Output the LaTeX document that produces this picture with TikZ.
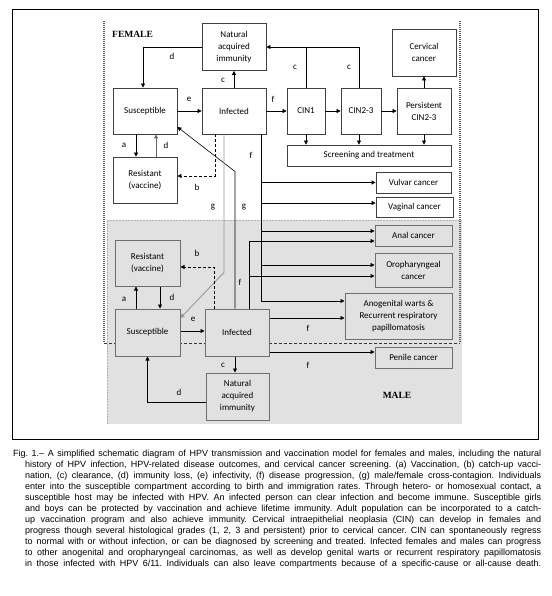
\documentclass[tikz,border=0pt]{standalone}
\usepackage{fontspec}
\setmainfont{Carlito}
\newfontfamily\capfont{Liberation Sans}
\newfontfamily\lblfont{Liberation Serif}
\usetikzlibrary{arrows.meta,calc}
\definecolor{regiongray}{HTML}{E1E1E1}
\definecolor{fbord}{HTML}{404040}
\definecolor{mbord}{HTML}{6E6E6E}
\frenchspacing
\tikzset{
  fbox/.style={draw=fbord, line width=0.8pt, fill=white, inner sep=1pt, align=center,
    font=\fontsize{9}{12}\selectfont},
  mbox/.style={draw=mbord, line width=1pt, fill=regiongray, inner sep=1pt, align=center,
    font=\fontsize{9}{12}\selectfont},
  arr/.style={line width=0.7pt, -{Triangle[length=4pt,width=4pt]}},
  conn/.style={line width=0.7pt},
  dasharr/.style={arr, dash pattern=on 3pt off 2pt},
  lbl/.style={font=\fontsize{9}{10}\selectfont, inner sep=0pt},
  sexlbl/.style={font=\lblfont\bfseries\fontsize{9.5}{10}\selectfont, inner sep=0pt},
}
\begin{document}
\begin{tikzpicture}[x=1pt,y=-1pt]
\useasboundingbox (0,0) rectangle (551,596);
% outer frame
\draw[line width=0.9pt] (12,9) rectangle (538,439);
% male region
\fill[regiongray] (107,220) rectangle (462,424);
\draw[gray!60, line width=0.8pt, dash pattern=on 2pt off 1pt] (107,424) -- (107,220) -- (462,220);
% female region
\draw[gray!70!black, line width=1.3pt, dash pattern=on 1pt off 1pt] (104,21) -- (104,343);
\draw[gray!70!black, line width=1.3pt, dash pattern=on 1pt off 1pt] (460,21) -- (460,343);
\draw[black!80, line width=0.8pt, dash pattern=on 3pt off 2pt] (104,343) -- (460,343);
\node[sexlbl, anchor=west] (femlbl) at (112,34) {FEMALE};
\node[sexlbl] (malelbl) at (397,395) {MALE};

% female nodes
\node[fbox, minimum width=64pt, minimum height=47pt] (fNat) at (234,47) {Natural\\acquired\\immunity};
\node[fbox, minimum width=64pt, minimum height=46pt] (fSus) at (145,111) {Susceptible};
\node[fbox, minimum width=64pt, minimum height=46pt] (fInf) at (234,111) {Infected};
\node[fbox, minimum width=38pt, minimum height=46pt] (cin1) at (306,111) {CIN1};
\node[fbox, minimum width=40pt, minimum height=46pt] (cin23) at (361,111) {CIN2-3};
\node[fbox, minimum width=54pt, minimum height=46pt] (pers) at (424,111) {Persistent\\CIN2-3};
\node[fbox, minimum width=64pt, minimum height=47pt] (cerv) at (424,52.5) {Cervical\\cancer};
\node[fbox, minimum width=164pt, minimum height=21pt] (screen) at (369,155.5) {Screening and treatment};
\node[fbox, minimum width=64pt, minimum height=46pt] (fRes) at (145,180) {Resistant\\(vaccine)};
\node[fbox, minimum width=75pt, minimum height=21pt] (vulv) at (413.5,182.5) {Vulvar cancer};
\node[fbox, minimum width=77pt, minimum height=20pt] (vag) at (414.5,207) {Vaginal cancer};

% male nodes
\node[mbox, minimum width=77pt, minimum height=21pt] (anal) at (413.5,235.5) {Anal cancer};
\node[mbox, minimum width=77pt, minimum height=34pt] (oro) at (413.5,270) {Oropharyngeal\\cancer};
\node[mbox, minimum width=107pt, minimum height=46pt] (warts) at (398.5,316) {Anogenital warts \&\\Recurrent respiratory\\papillomatosis};
\node[mbox, minimum width=77pt, minimum height=21pt] (penile) at (413.5,357.5) {Penile cancer};
\node[mbox, minimum width=65pt, minimum height=46pt] (mRes) at (147.5,263) {Resistant\\(vaccine)};
\node[mbox, minimum width=65pt, minimum height=47pt] (mSus) at (147.5,332.5) {Susceptible};
\node[mbox, minimum width=64pt, minimum height=47pt] (mInf) at (237,332.5) {Infected};
\node[mbox, minimum width=63pt, minimum height=47pt] (mNat) at (237.5,396.5) {Natural\\acquired\\immunity};

% ---------- female connectors
\draw[arr] (fNat.west) -| ([xshift=-2pt]fSus.north);
\node[lbl] (ld1) at (172,56) {d};
\draw[arr] (fInf.north) -- (fNat.south);
\node[lbl] (lc1) at (223,80) {c};
\coordinate (cj) at (cin1.north |- fNat.east);
\draw[conn] ([xshift=-2pt]cin23.north) |- (cj);
\draw[arr] (cin1.north) |- (fNat.east);
\node[lbl] (lc2) at (295,67) {c};
\node[lbl] (lc3) at (349,67) {c};
\draw[arr] (fSus.east) -- (fInf.west);
\node[lbl] (le1) at (189,99) {e};
\draw[arr] (fInf.east) -- (cin1.west);
\node[lbl] (lf1) at (273,99) {f};
\draw[arr] (cin1.east) -- (cin23.west);
\draw[arr] (cin23.east) -- (pers.west);
\draw[arr] (pers.north) -- (cerv.south);
\draw[arr] (cin1.south) -- (cin1.south |- screen.north);
\draw[arr] ([xshift=-2pt]cin23.south) -- ([xshift=-2pt]cin23.south |- screen.north);
\draw[arr] (pers.south) -- (pers.south |- screen.north);
\draw[arr] ([xshift=-9pt]fSus.south) -- ([xshift=-9pt]fRes.north);
\draw[arr, draw=gray!80!black, line width=1pt] ([xshift=11pt]fRes.north) -- ([xshift=11pt]fSus.south);
\node[lbl] (la1) at (124,145) {a};
\node[lbl] (ld2) at (166,145) {d};
\draw[dasharr] ([xshift=-19pt]fInf.south) |- ([yshift=4pt]fRes.east);
\node[lbl] (lb1) at (197,187) {b};
% cross contagion
\draw[arr, line width=0.6pt] ([xshift=-2pt]mInf.north) -- ++(0,-137) -- ([yshift=-16pt]fSus.east);
\node[lbl] (lg1) at (244,207) {g};
\draw[arr, draw=gray!80, line width=0.9pt] ([xshift=-10pt]fInf.south) -- ++(0,138) -- ([yshift=14.5pt]mSus.east);
\node[lbl] (lg2) at (213,207) {g};
% female disease progression
\coordinate (fx) at ([xshift=27pt]fInf.south);
\coordinate (t1) at (vulv.west);
\coordinate (t2) at ([yshift=4pt]vag.west);
\coordinate (t3) at ([yshift=4.5pt]anal.west);
\coordinate (t4) at ([yshift=5pt]oro.west);
\coordinate (t5) at ([yshift=15pt]warts.west);
\draw[arr] (fx) |- (t1);
\draw[arr] (fx) |- (t2);
\draw[arr] (fx) |- (t3);
\draw[arr] (fx) |- (t4);
\draw[arr] (fx) |- (t5);
\node[lbl] (lf2) at (251,155) {f};

% ---------- male connectors
\coordinate (mx) at ([xshift=12pt]mInf.north);
\coordinate (u3) at ([yshift=-5.5pt]anal.west);
\coordinate (u4) at ([yshift=-6pt]oro.west);
\draw[arr] (mx) |- (u3);
\draw[arr] (mx) |- (u4);
\node[lbl] (lf3) at (240,282) {f};
\coordinate (w2) at ([yshift=-2pt]warts.west);
\draw[arr] (mInf.east |- w2) -- (w2);
\node[lbl] (lf4) at (308,328) {f};
\coordinate (p1) at ([yshift=5.5pt]penile.west);
\draw[arr] (mInf.east |- p1) -- (p1);
\node[lbl] (lf5) at (308,365) {f};
\draw[arr] ([xshift=-11.5pt]mSus.north) -- ([xshift=-11.5pt]mRes.south);
\draw[arr] ([xshift=12.5pt]mRes.south) -- ([xshift=12.5pt]mSus.north);
\node[lbl] (la2) at (124,299) {a};
\node[lbl] (ld3) at (172,297) {d};
\draw[dasharr] ([xshift=-23pt]mInf.north) |- ([yshift=-4pt]mRes.east);
\node[lbl] (lb2) at (197,253) {b};
\draw[arr] ([yshift=1.5pt]mSus.east) -- ([yshift=1.5pt]mInf.west);
\node[lbl] (le2) at (193,319) {e};
\draw[arr] ([xshift=-2pt]mInf.south) -- ([xshift=-2pt]mInf.south |- mNat.north);
\node[lbl] (lc4) at (223,365) {c};
\draw[arr] ([yshift=-5.5pt]mNat.west) -| (mSus.south);
\node[lbl] (ld4) at (179,392) {d};

% ---------- caption
\node[anchor=north west, inner sep=0pt, align=left, font=\capfont\fontsize{9}{11}\selectfont] (caption) at (13,450) {%
\makebox[528pt][s]{Fig. 1.– A simplified schematic diagram of HPV transmission and vaccination model for females and males, including the natural}\\
\hspace*{12pt}\makebox[516pt][s]{history of HPV infection, HPV-related disease outcomes, and cervical cancer screening. (a) Vaccination, (b) catch-up vacci-}\\
\hspace*{12pt}\makebox[516pt][s]{nation, (c) clearance, (d) immunity loss, (e) infectivity, (f) disease progression, (g) male/female cross-contagion. Individuals}\\
\hspace*{12pt}\makebox[516pt][s]{enter into the susceptible compartment according to birth and immigration rates. Through hetero- or homosexual contact, a}\\
\hspace*{12pt}\makebox[516pt][s]{susceptible host may be infected with HPV. An infected person can clear infection and become immune. Susceptible girls}\\
\hspace*{12pt}\makebox[516pt][s]{and boys can be protected by vaccination and achieve lifetime immunity. Adult population can be incorporated to a catch-}\\
\hspace*{12pt}\makebox[516pt][s]{up vaccination program and also achieve immunity. Cervical intraepithelial neoplasia (CIN) can develop in females and}\\
\hspace*{12pt}\makebox[516pt][s]{progress though several histological grades (1, 2, 3 and persistent) prior to cervical cancer. CIN can spontaneously regress}\\
\hspace*{12pt}\makebox[516pt][s]{to normal with or without infection, or can be diagnosed by screening and treated. Infected females and males can progress}\\
\hspace*{12pt}\makebox[516pt][s]{to other anogenital and oropharyngeal carcinomas, as well as develop genital warts or recurrent respiratory papillomatosis}\\
\hspace*{12pt}\makebox[516pt][s]{in those infected with HPV 6/11. Individuals can also leave compartments because of a specific-cause or all-cause death.}};
\end{tikzpicture}
\end{document}
